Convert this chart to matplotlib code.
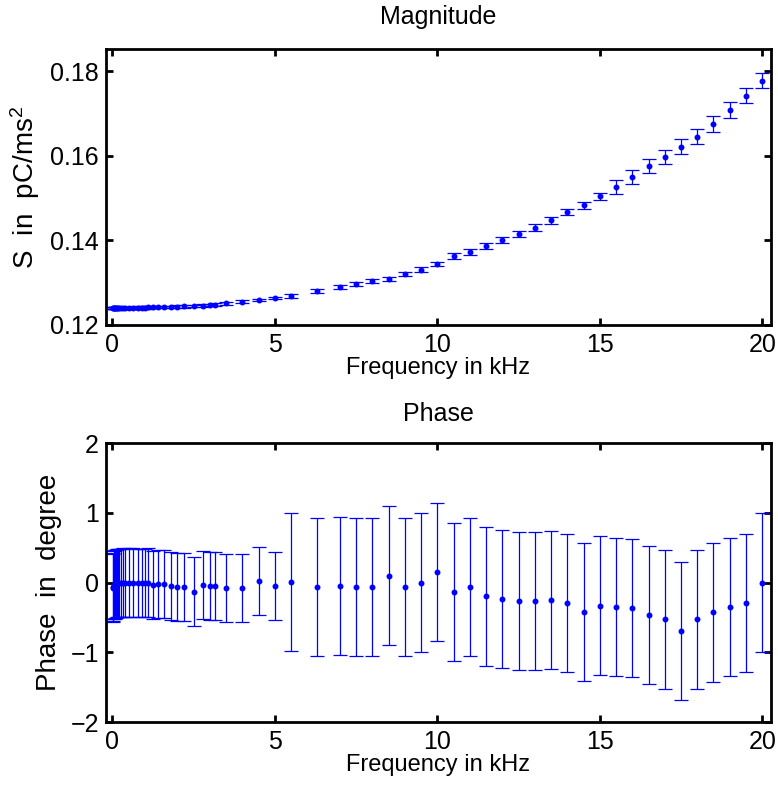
import matplotlib
matplotlib.use("Agg")
import matplotlib.pyplot as plt

plt.rcParams['font.family'] = ['Liberation Sans', 'DejaVu Sans']
plt.rcParams['mathtext.fontset'] = 'custom'
plt.rcParams['mathtext.rm'] = 'Liberation Sans'
plt.rcParams['mathtext.it'] = 'Liberation Sans'
plt.rcParams['mathtext.default'] = 'regular'

# Frequencies in kHz
freq = [0.01, 0.02, 0.04, 0.063, 0.08, 0.1, 0.125, 0.16, 0.2, 0.25, 0.315, 0.4, 0.5,
        0.63, 0.8, 0.9, 1.0, 1.1, 1.25, 1.4, 1.6, 1.8, 2.0, 2.2, 2.5, 2.8, 3.0, 3.15,
        3.5, 4.0, 4.5, 5.0, 5.5, 6.3, 7.0, 7.5, 8.0, 8.5, 9.0, 9.5, 10.0, 10.5, 11.0,
        11.5, 12.0, 12.5, 13.0, 13.5, 14.0, 14.5, 15.0, 15.5, 16.0, 16.5, 17.0, 17.5,
        18.0, 18.5, 19.0, 19.5, 20.0]

# Magnitude (pC/ms^2)
magnitude = [0.1240, 0.1240, 0.1240, 0.1240, 0.1240, 0.1240, 0.1240, 0.1240, 0.1240,
             0.1240, 0.1240, 0.1240, 0.1240,
             0.12405, 0.1241, 0.1241, 0.1241, 0.12415, 0.1242, 0.1242, 0.12425, 0.1243,
             0.12435, 0.1244, 0.1245, 0.1246, 0.1247, 0.1248, 0.1251, 0.1255, 0.1259,
             0.1264, 0.1269, 0.1280, 0.1289, 0.1296, 0.1304, 0.1309, 0.1321, 0.1331,
             0.1345, 0.1362, 0.1373, 0.1387, 0.1401, 0.1414, 0.1430, 0.1447, 0.1467,
             0.1483, 0.1504, 0.1527, 0.1550, 0.1575, 0.1598, 0.1621, 0.1645, 0.1675,
             0.1708, 0.1742, 0.1777]

magnitude_err = [0.0003] * 32 + [0.0005] * 9 + [0.0007] * 5 + [0.0008] * 5 + \
                [0.00165] * 4 + [0.0018] * 6

# Phase (degree)
phase = [-0.08, -0.06, -0.04, -0.03, -0.02, -0.02, -0.01, -0.01, -0.01, -0.01, 0.0,
         -0.01, 0.0, 0.0, -0.01, -0.01, -0.01, 0.0, -0.04, -0.02, -0.02, -0.05, -0.06,
         -0.06, -0.13, -0.04, -0.05, -0.05, -0.08, -0.08, 0.02, -0.05, 0.01, -0.07,
         -0.05, -0.07, -0.07, 0.10, -0.06, 0.0, 0.15, -0.14, -0.06, -0.20, -0.24,
         -0.26, -0.27, -0.25, -0.30, -0.42, -0.33, -0.35, -0.36, -0.46, -0.53, -0.70,
         -0.53, -0.43, -0.35, -0.29, 0.0]

phase_err = [0.49] * 32 + [0.99] * 29

W, H = 778, 785
fig = plt.figure(figsize=(W / 100, H / 100), dpi=100)

def px_axes(left, top, right, bottom):
    return fig.add_axes([left / W, 1 - bottom / H, (right - left) / W, (bottom - top) / H])

ax1 = px_axes(106, 49, 771, 325)
ax2 = px_axes(106, 443, 771, 722)

blue = (0, 0, 1)
ekw = dict(fmt='.', color=blue, ecolor=blue, markersize=6.5, elinewidth=0.9,
           capsize=5, capthick=0.9)

ax1.errorbar(freq, magnitude, yerr=magnitude_err, **ekw)
ax2.errorbar(freq, phase, yerr=phase_err, **ekw)

tick_fs = 18
for ax in (ax1, ax2):
    ax.set_xlim(-0.2, 20.27)
    ax.set_xticks([0, 5, 10, 15, 20])
    for s in ax.spines.values():
        s.set_linewidth(2)
    ax.tick_params(direction='in', length=5, width=2, top=True, right=True,
                   labelsize=tick_fs)
    ax.tick_params(axis='x', pad=6)
    ax.tick_params(axis='y', pad=5)
    ax.set_xlabel('Frequency in kHz', fontsize=17, labelpad=0)

ax1.set_ylim(0.12, 0.1852)
ax1.set_yticks([0.12, 0.14, 0.16, 0.18])
ax1.set_yticklabels(['0.12', '0.14', '0.16', '0.18'])
ax1.set_ylabel('S  in  pC/ms$^2$', fontsize=20, labelpad=6)
ax1.set_title('Magnitude', fontsize=18, pad=18)

ax2.set_ylim(-2, 2)
ax2.set_yticks([-2, -1, 0, 1, 2])
ax2.set_ylabel('Phase  in  degree', fontsize=20, labelpad=6)
ax2.set_title('Phase', fontsize=18, pad=16)

fig.savefig('out.png', dpi=100)
